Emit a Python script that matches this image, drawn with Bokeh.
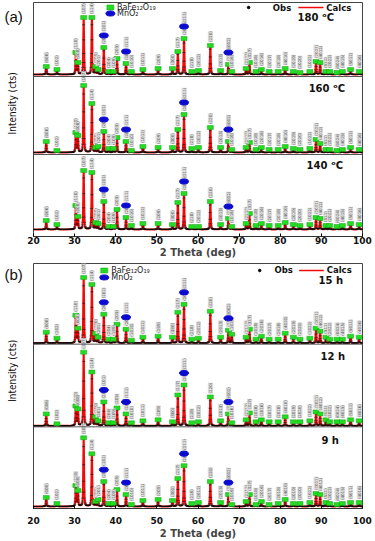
import numpy as np
from bokeh.plotting import figure
from bokeh.layouts import column, row
from bokeh.models import Range1d, Span, Label, FixedTicker, ColumnDataSource
from bokeh.core.properties import value
from bokeh.embed import file_html
from bokeh.resources import INLINE

# ---------------- data ----------------
two_theta = [23.1, 25.7, 30.3, 30.8, 32.2, 34.2, 35.1, 35.7, 37.1, 38.3, 39.4, 40.3, 42.5, 43.8,
             46.6, 50.3, 53.8, 55.1, 56.6, 58.5, 60.1, 63.0, 65.5, 67.4, 68.2, 71.7, 72.5, 74.1,
             75.4, 77.3, 79.5, 81.2, 83.2, 84.8, 87.2, 88.7, 89.7, 91.1, 92.0, 93.8, 95.1, 97.1, 99.2]
hkl = ["(006)", "(102)", "(110)", "(008)", "(107)", "(114)", "(200)", "(201)", "(203)", "(204)",
       "(109)", "(205)", "(206)", "(1010)", "(1011)", "(209)", "(300)", "(217)", "(2011)", "(218)",
       "(2012)", "(220)", "(2013)", "(2111)", "(1016)", "(2112)", "(317)", "(1018)", "(2016)",
       "(2017)", "(2018)", "(4010)", "(2019)", "(2020)", "(1022)", "(2021)", "(4012)", "(511)",
       "(2022)", "(0024)", "(4015)", "(5011)", "(4016)"]

mno2_theta = [37.1, 42.5, 56.6, 67.4]
mno2_hkl = ["(101)", "(111)", "(211)", "(002)"]

# panel (a): temperatures
I_180 = [8, 5, 22, 12, 57, 57, 8, 5, 27, 3, 3, 16, 11, 3, 5, 6, 6, 23, 36, 3, 4, 29, 4, 10, 3,
         6, 12, 3, 5, 3, 3, 6, 3, 2, 3, 13, 12, 3, 3, 2, 3, 5, 3]
I_160 = [11, 2, 20, 17, 67, 49, 5, 6, 21, 4, 4, 15, 11, 2, 6, 5, 5, 23, 38, 4, 5, 25, 5, 11, 3,
         5, 10, 3, 5, 3, 3, 6, 4, 3, 4, 13, 9, 3, 3, 2, 3, 5, 3]
I_140 = [9, 5, 24, 13, 59, 57, 7, 6, 28, 3, 3, 20, 12, 4, 6, 6, 5, 27, 36, 3, 3, 28, 5, 11, 3,
         6, 16, 4, 6, 4, 4, 7, 5, 4, 5, 12, 11, 4, 4, 3, 4, 6, 5]
# panel (b): times
I_15h = [11, 5, 28, 15, 66, 59, 10, 6, 29, 4, 4, 19, 14, 3, 6, 7, 6, 31, 39, 4, 5, 32, 6, 13, 9,
         6, 14, 4, 7, 4, 4, 10, 6, 4, 5, 15, 12, 6, 4, 4, 4, 7, 6]
I_12h = [12, 2, 20, 17, 74, 54, 9, 5, 24, 3, 3, 18, 12, 3, 5, 6, 4, 31, 41, 3, 4, 29, 5, 12, 3,
         6, 13, 4, 6, 4, 4, 9, 4, 4, 5, 14, 12, 6, 4, 4, 4, 6, 5]
I_9h = [9, 3, 21, 16, 69, 53, 5, 7, 25, 3, 3, 17, 12, 2, 6, 7, 6, 28, 41, 3, 4, 25, 4, 12, 2,
        5, 12, 2, 5, 2, 3, 7, 3, 3, 4, 13, 12, 4, 3, 2, 3, 4, 4]

labels_a = ["180 \u1d52C", "160 \u1d52C", "140 \u1d52C"]
labels_b = ["15 h", "12 h", "9 h"]
x_ticks = [20, 30, 40, 50, 60, 70, 80, 90, 100]

# ---------------- styling ----------------
RED = "#f00a0a"
GREEN = "#22dd22"
BLUE = "#0a0ad0"
FONT = "DejaVu Sans"
NARROW = "DejaVu Sans Condensed, Liberation Sans, sans-serif"
W_FWHM = 0.24
TAG_W = 26


def profile(x, centers, heights):
    y = np.zeros_like(x)
    hw = W_FWHM / 2.0
    for c, h in zip(centers, heights):
        d = (x - c) / hw
        y += h * (0.5 / (1 + d * d) + 0.5 * np.exp(-np.log(2) * d * d))
    return y


def make_tag(tag, height, tag_y, ylab_y):
    t = figure(width=TAG_W, height=height, output_backend="svg", toolbar_location=None,
               x_range=Range1d(0, TAG_W), y_range=Range1d(0, height), min_border=0,
               x_axis_location=None, y_axis_location=None)
    t.outline_line_color = None
    t.xgrid.visible = False
    t.ygrid.visible = False
    t.text(x=[4], y=[tag_y], text=[tag], text_font=value("Liberation Sans"),
           text_font_size="15px", text_color="#111111", text_baseline="middle",
           text_align="left")
    t.text(x=[12], y=[ylab_y], text=["Intensity (cts)"], angle=np.pi / 2,
           text_font=value(NARROW), text_font_size="10px", text_color="#111111",
           text_baseline="middle", text_align="center")
    return t


def make_panel(patterns, names, baselines, seps, ytop, name_pos, height, border_top,
               border_bottom, tick_standoff, title_standoff, legend_y, obs_x):
    p = figure(width=375 - TAG_W, height=height, output_backend="svg", toolbar_location=None,
               x_range=Range1d(20, 100), y_range=Range1d(0, ytop),
               min_border_left=33 - TAG_W, min_border_right=13, min_border_top=border_top,
               min_border_bottom=border_bottom)
    p.background_fill_color = "white"
    p.border_fill_color = "white"
    p.outline_line_color = "#444444"
    p.xgrid.visible = False
    p.ygrid.visible = False
    p.yaxis.visible = False

    p.xaxis.ticker = FixedTicker(ticks=x_ticks)
    p.xaxis.minor_tick_line_color = None
    p.xaxis.major_tick_in = 3
    p.xaxis.major_tick_out = 0
    p.xaxis.major_label_standoff = tick_standoff
    p.xaxis.major_label_text_font = FONT
    p.xaxis.major_label_text_font_size = "9px"
    p.xaxis.major_label_text_font_style = "bold"
    p.xaxis.major_label_text_color = "#111111"
    p.xaxis.axis_label = "2 Theta (deg)"
    p.xaxis.axis_label_text_font = FONT
    p.xaxis.axis_label_text_font_size = "10px"
    p.xaxis.axis_label_text_font_style = "bold"
    p.xaxis.axis_label_standoff = title_standoff
    p.xaxis.axis_line_color = "#333333"

    for s in seps:
        p.add_layout(Span(location=s, dimension="width", line_color="#555555", line_width=1))

    xf = np.arange(20.0, 100.0001, 0.01)
    xo = np.arange(20.0, 100.0001, 0.05)
    for inten, base, nm, npos in zip(patterns, baselines, names, name_pos):
        yc = base + profile(xf, two_theta, inten)
        yo = base + profile(xo, two_theta, inten)
        p.line(xf, yc, line_color=RED, line_width=2)
        p.scatter(xo, yo, marker="dash", size=3, line_color="#111111", line_width=0.6,
                  line_alpha=0.6)

        tops = [base + h for h in inten]
        src = ColumnDataSource(dict(x=two_theta, y=tops, ly=[t + 3.5 for t in tops], t=hkl))
        p.rect("x", "y", width=6, height=4, width_units="screen", height_units="screen",
               source=src, fill_color=GREEN, line_color="#14a014", line_width=0.5)
        p.text("x", "ly", text="t", source=src, angle=np.pi / 2, text_align="left",
               text_baseline="middle", text_font=value(FONT), text_font_size="4px",
               text_color="#555555", background_fill_color="#dcdcdc")

        mtops = [tops[two_theta.index(m)] + 12 for m in mno2_theta]
        msrc = ColumnDataSource(dict(x=mno2_theta, y=mtops, ly=[t + 4 for t in mtops],
                                     t=mno2_hkl))
        p.ellipse("x", "y", width=9, height=5, width_units="screen", height_units="screen",
                  source=msrc, fill_color=BLUE, line_color=BLUE)
        p.text("x", "ly", text="t", source=msrc, angle=np.pi / 2, text_align="left",
               text_baseline="middle", text_font=value(FONT), text_font_size="4px",
               text_color="#555555", background_fill_color="#dcdcdc")

        p.add_layout(Label(x=npos[0], y=npos[1], text=nm, text_font=FONT, text_font_size="10px",
                           text_font_style="bold", text_color="#111111",
                           text_baseline="middle", text_align="left"))

    # legend (left)
    lx_mark, lx_text = legend_y[0], legend_y[1]
    ly1, ly2 = legend_y[2], legend_y[3]
    p.rect([lx_mark], [ly1], width=7, height=5, width_units="screen", height_units="screen",
           fill_color=GREEN, line_color="#14a014", line_width=0.5)
    p.ellipse([lx_mark], [ly2], width=9, height=5, width_units="screen", height_units="screen",
              fill_color=BLUE, line_color=BLUE)
    p.add_layout(Label(x=lx_text, y=ly1, text="BaFe\u2081\u2082O\u2081\u2089", text_font=FONT,
                       text_font_size="8px", text_color="#222222", text_baseline="middle"))
    p.add_layout(Label(x=lx_text, y=ly2, text="MnO\u2082", text_font=FONT,
                       text_font_size="8px", text_color="#222222", text_baseline="middle"))
    # legend (right): Obs / Calcs
    p.scatter([obs_x[0]], [ly1], marker="circle", size=2.5, fill_color="black", line_color="black")
    p.add_layout(Label(x=obs_x[1], y=ly1, text="Obs", text_font=FONT, text_font_size="8.5px",
                       text_font_style="bold", text_color="#111111", text_baseline="middle"))
    p.line([obs_x[2], obs_x[3]], [ly1, ly1], line_color=RED, line_width=1.6)
    p.add_layout(Label(x=obs_x[4], y=ly1, text="Calcs", text_font=FONT, text_font_size="8.5px",
                       text_font_style="bold", text_color="#111111", text_baseline="middle"))
    return p


pa = make_panel([I_180, I_160, I_140], labels_a, [162, 84, 7], [82, 160], 234,
                [(84.2, 219), (86.9, 148), (86.4, 71)], 260, 2, 24, 0, 0,
                [38.7, 40.3, 229, 223], [72.3, 78.2, 84.4, 90.5, 91.2])
pb = make_panel([I_15h, I_12h, I_9h], labels_b, [166, 83, 2], [82, 165], 246,
                [(89.3, 229), (89.8, 153), (90.0, 68)], 281, 3, 32, 8, 1,
                [37.2, 38.9, 239, 232], [75.0, 78.6, 84.6, 90.6, 91.3])

ta = make_tag("(a)", 260, 245, 148)
tb = make_tag("(b)", 281, 268, 158)

layout = column(row(ta, pa, spacing=0), row(tb, pb, spacing=0), spacing=0)
open("out.html", "w").write(file_html(layout, INLINE))
